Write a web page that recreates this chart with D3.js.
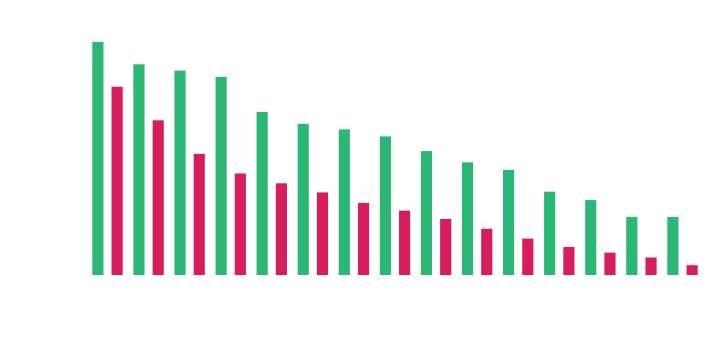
<!DOCTYPE html>
<html>
<head>
<meta charset="utf-8">
<script src="https://cdn.jsdelivr.net/npm/d3@7"></script>
<style>
  html, body { margin: 0; padding: 0; background: #fff; }
  svg { display: block; font-family: "Open Sans", "DejaVu Sans", sans-serif; }
</style>
</head>
<body>
<svg id="chart" width="725" height="348"></svg>
<script>
// Paired series per category
const categories = ["1", "2", "3", "4", "5", "6", "7", "8", "9", "10", "11", "12", "13", "14", "15"];
const seriesNames = ["a", "b"];
const seriesA = [333, 301, 292, 283, 233, 216, 208, 198, 177, 161, 150, 119, 107, 83, 83];
const seriesB = [269, 221, 173, 145, 131, 118, 103, 92, 80, 66, 52, 40, 32, 25, 14];
const yTicks = [50, 100, 150, 200, 250, 300, 350];

const colors = { a: "#2cb774", b: "#d81d5c" };

const svg = d3.select("#chart");
const rows = categories.map((c, i) => ({ cat: c, a: seriesA[i], b: seriesB[i] }));

const x0 = d3.scaleBand().domain(categories).range([92.3, 697.7]).paddingInner(0.26).paddingOuter(0);
const x1 = d3.scaleBand().domain(seriesNames).range([0, x0.bandwidth()]).paddingInner(0.42).paddingOuter(0);
const y = d3.scaleLinear().domain([0, 350]).range([275, 30]);

// y-axis labels (white, as in the light-on-dark theme)
const yAxis = svg.append("g")
  .attr("transform", "translate(80,0)")
  .call(d3.axisLeft(y).tickValues(yTicks).tickSize(0).tickPadding(8));
yAxis.select(".domain").remove();
yAxis.selectAll("text").attr("fill", "#ffffff").style("font-size", "11px");

const groups = svg.append("g").selectAll("g")
  .data(rows)
  .join("g")
  .attr("transform", d => `translate(${x0(d.cat)},0)`);

groups.selectAll("rect")
  .data(d => seriesNames.map(k => ({ key: k, value: d[k] })))
  .join("rect")
  .attr("x", d => x1(d.key))
  .attr("width", x1.bandwidth())
  .attr("y", d => y(d.value))
  .attr("height", d => y(0) - y(d.value))
  .attr("fill", d => colors[d.key]);
</script>
</body>
</html>
